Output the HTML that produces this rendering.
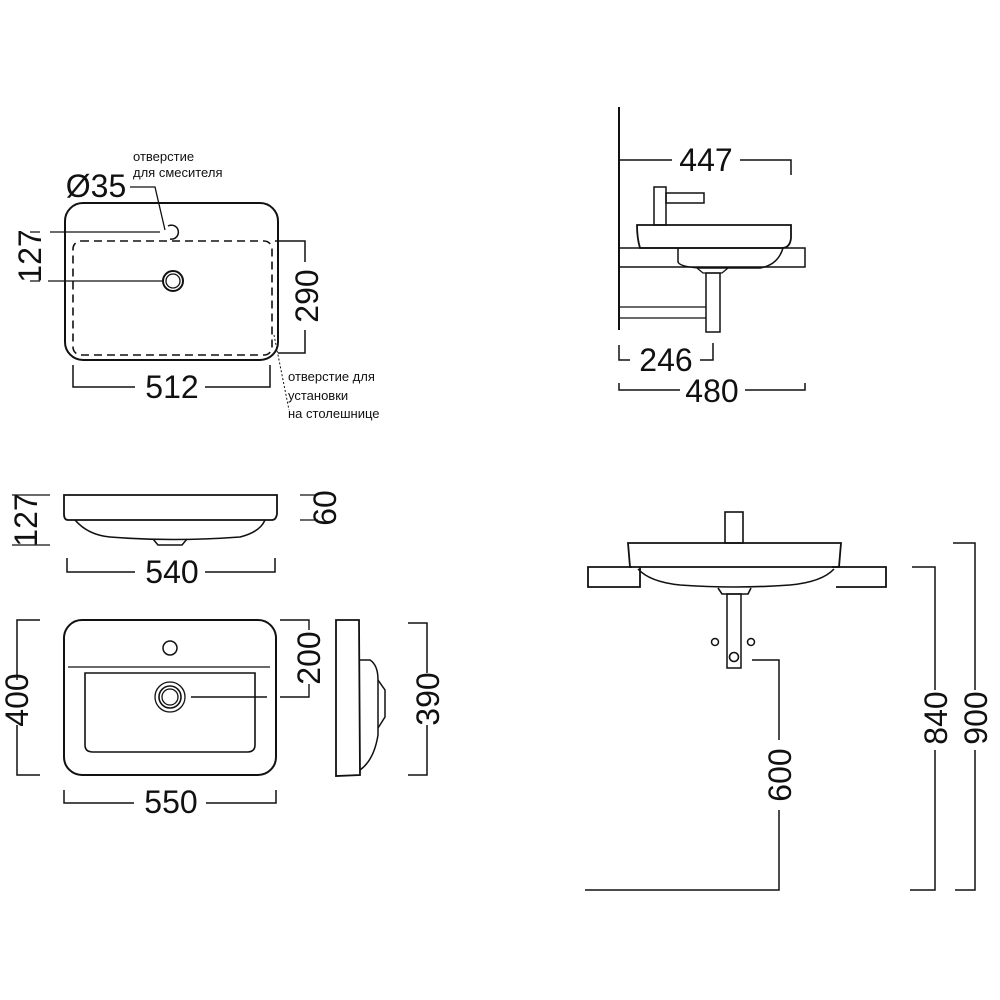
<!DOCTYPE html>
<html><head><meta charset="utf-8"><style>html,body{margin:0;padding:0;background:#fff}svg{display:block}</style></head><body>
<svg width="1000" height="1000" viewBox="0 0 1000 1000" xmlns="http://www.w3.org/2000/svg" font-family="Liberation Sans, sans-serif">
<rect width="1000" height="1000" fill="#fff"/>
<g fill="none" stroke="#111" stroke-width="2">
<rect x="65" y="203" width="213" height="157" rx="18"/>
<rect x="73" y="241" width="199" height="114" rx="8" stroke-dasharray="8,5" stroke-width="1.6"/>
<path d="M168,226 A7,7 0 1 1 170,239" stroke-width="1.5"/>
<circle cx="173" cy="281" r="10"/><circle cx="173" cy="281" r="7" stroke-width="1.3"/>
<path d="M50,232H160M48,281H162" stroke-width="1.3"/>
<path d="M30,232H40M30,281H40" stroke-width="1.3"/>
<path d="M130,187H155L165,230" stroke-width="1.3"/>
<path d="M275,241H305V262M305,330V353H278" stroke-width="1.5"/>
<path d="M73,365V387H135M205,387H270V365" stroke-width="1.5"/>
<path d="M274,335L289,410" stroke-width="1" stroke-dasharray="2,2"/>
<path d="M619,107V330"/>
<path d="M619,160H672M740,160H791V175" stroke-width="1.5"/>
<rect x="654" y="187" width="12" height="38" stroke-width="1.5"/>
<rect x="666" y="193" width="38" height="10" stroke-width="1.5"/>
<path d="M637,225H791V238Q790,248 782,248H640Q637,238 637,225Z" stroke-width="1.8"/>
<rect x="619" y="248" width="186" height="19" stroke-width="1.5"/>
<path d="M678,248V262Q680,267 700,268H760Q778,265 783,248" stroke-width="1.5"/>
<path d="M697,268L703,273H722L728,268" stroke-width="1.3"/>
<rect x="706" y="273" width="14" height="59" stroke-width="1.5"/>
<path d="M619,307H706M619,318H706" stroke-width="1.3"/>
<path d="M619,345V360H630M700,360H713V343" stroke-width="1.5"/>
<path d="M619,383V390H680M745,390H805V383" stroke-width="1.5"/>
<path d="M64,495H277V514Q276,520 272,520H68Q64,520 64,514Z" stroke-width="1.8"/>
<path d="M75,520Q88,535 110,537Q172,542 240,537Q260,532 265,520" stroke-width="1.6"/>
<path d="M153,539L158,545H182L187,539" stroke-width="1.5"/>
<path d="M12,495H50M12,545H50" stroke-width="1.3"/>
<path d="M300,495H318M300,520H318" stroke-width="1.3"/>
<path d="M67,558V572H135M205,572H275V558" stroke-width="1.5"/>
<rect x="64" y="620" width="212" height="155" rx="18"/>
<circle cx="170" cy="648" r="7" stroke-width="1.5"/>
<path d="M68,667H270" stroke-width="1.3"/>
<path d="M85,673H255V745Q255,752 247,752H93Q85,752 85,745Z" stroke-width="1.6"/>
<circle cx="170" cy="697" r="15" stroke-width="1.3"/><circle cx="170" cy="697" r="11" stroke-width="1.6"/><circle cx="170" cy="697" r="8" stroke-width="1.3"/>
<path d="M191,697H267M280,697H309V684M309,630V620H280" stroke-width="1.4"/>
<path d="M40,620H17V680M17,725V775H40" stroke-width="1.5"/>
<path d="M64,790V803H134M206,803H276V790" stroke-width="1.5"/>
<path d="M336,620H359L360,775L336,776Z" stroke-width="1.8"/>
<path d="M360,660H370Q378,665 378,680V735Q374,760 360,770" stroke-width="1.5"/>
<path d="M378,680L385,690V717L378,728" stroke-width="1.5"/>
<path d="M408,623H427V673M427,725V775H408" stroke-width="1.5"/>
<rect x="725" y="512" width="18" height="31" stroke-width="1.6"/>
<path d="M628,543H841L839,567H630Z" stroke-width="1.8"/>
<path d="M640,567V587H588V567H632M832,567H886V587H836" stroke-width="1.8"/>
<path d="M638,569Q650,582 680,585Q735,589 790,585Q822,582 834,569" stroke-width="1.6"/>
<path d="M718,588L722,594H748L751,588" stroke-width="1.6"/>
<rect x="727" y="594" width="14" height="74" stroke-width="1.5"/>
<circle cx="715" cy="642" r="3.5" stroke-width="1.5"/><circle cx="751" cy="642" r="3.5" stroke-width="1.5"/><circle cx="734" cy="657" r="4.5" stroke-width="1.6"/>
<path d="M752,660H779V740M779,810V890H585" stroke-width="1.5"/>
<path d="M912,567H935V690M935,750V890H910" stroke-width="1.5"/>
<path d="M953,543H975V690M975,750V890H955" stroke-width="1.5"/>
</g>
<g fill="#111" font-size="32">
<text x="172" y="398" text-anchor="middle">512</text>
<text x="706" y="171" text-anchor="middle">447</text>
<text x="666" y="371" text-anchor="middle">246</text>
<text x="712" y="402" text-anchor="middle">480</text>
<text x="172" y="583" text-anchor="middle">540</text>
<text x="171" y="813" text-anchor="middle">550</text>
<text x="96" y="197" text-anchor="middle">Ø35</text>
<text transform="translate(41,256) rotate(-90)" text-anchor="middle">127</text>
<text transform="translate(318,296) rotate(-90)" text-anchor="middle">290</text>
<text transform="translate(37,520) rotate(-90)" text-anchor="middle">127</text>
<text transform="translate(336,508) rotate(-90)" text-anchor="middle">60</text>
<text transform="translate(28,700) rotate(-90)" text-anchor="middle">400</text>
<text transform="translate(320,658) rotate(-90)" text-anchor="middle">200</text>
<text transform="translate(439,699) rotate(-90)" text-anchor="middle">390</text>
<text transform="translate(791,775) rotate(-90)" text-anchor="middle">600</text>
<text transform="translate(947,718) rotate(-90)" text-anchor="middle">840</text>
<text transform="translate(987,718) rotate(-90)" text-anchor="middle">900</text>
</g>
<g fill="#111" font-size="13">
<text x="133" y="161">отверстие</text>
<text x="133" y="177">для смесителя</text>
<text x="288" y="381">отверстие для</text>
<text x="288" y="400">установки</text>
<text x="288" y="418">на столешнице</text>
</g>
</svg>
</body></html>
